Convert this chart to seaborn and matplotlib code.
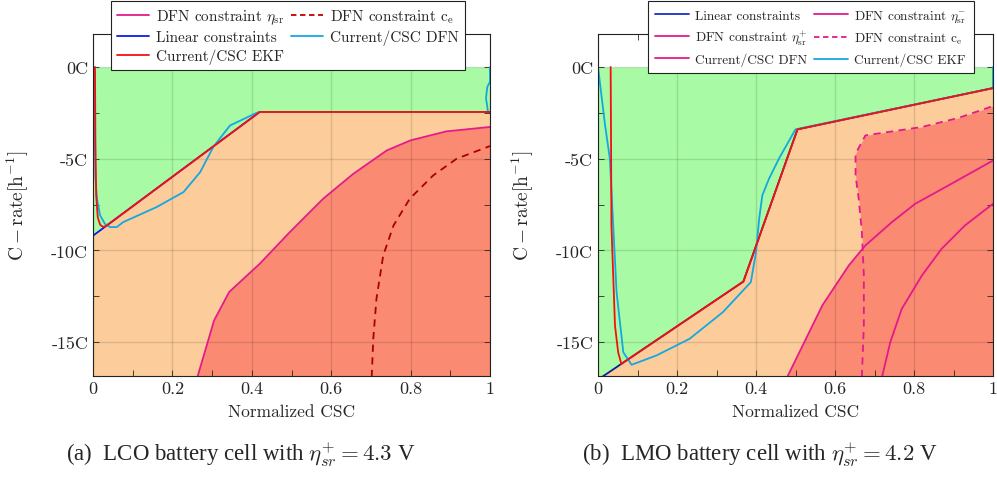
import numpy as np
import matplotlib.pyplot as plt
import seaborn as sns
from matplotlib.lines import Line2D
from matplotlib.ticker import MultipleLocator

# (a) LCO cell, eta_sr+ = 4.3 V
lco_lin_x = [0.0, 0.42, 1.0]
lco_lin_y = [-9.2, -2.45, -2.45]
lco_ekf_x = [0.005, 0.006, 0.008, 0.012, 0.018, 0.025, 0.033, 0.42, 1.0]
lco_ekf_y = [0.0, -4.0, -7.0, -8.2, -8.6, -8.72, -8.67, -2.45, -2.45]
lco_dfn_x = [0.003, 0.004, 0.006, 0.01, 0.018, 0.03, 0.043, 0.06, 0.076, 0.16, 0.228,
             0.27, 0.303, 0.345, 0.412, 0.42, 0.995, 0.99, 0.993, 1.0, 1.0]
lco_dfn_y = [0.0, -3.0, -6.0, -7.2, -8.1, -8.55, -8.73, -8.73, -8.46, -7.64, -6.82,
             -5.73, -4.36, -3.19, -2.5, -2.45, -2.45, -1.7, -1.1, -0.8, 0.0]
lco_eta_x = [0.263, 0.305, 0.343, 0.42, 0.496, 0.58, 0.656, 0.74, 0.80, 0.89, 1.0]
lco_eta_y = [-16.91, -13.82, -12.27, -10.73, -9.0, -7.18, -5.82, -4.55, -4.0, -3.51, -3.27]
lco_ce_x = [0.702, 0.706, 0.714, 0.731, 0.757, 0.798, 0.857, 0.916, 1.0]
lco_ce_y = [-16.91, -14.82, -12.64, -10.28, -8.64, -7.18, -5.91, -5.0, -4.31]

# (b) LMO cell, eta_sr+ = 4.2 V
lmo_lin_x = [0.0, 0.368, 0.505, 1.0]
lmo_lin_y = [-17.05, -11.7, -3.40, -1.15]
lmo_ekf_x = [0.032, 0.033, 0.034, 0.043, 0.051, 0.059, 0.368, 0.505, 1.0]
lmo_ekf_y = [0.0, -4.0, -8.64, -14.1, -15.55, -16.19, -11.7, -3.40, -1.15]
lmo_dfn_x = [0.0, 0.018, 0.03, 0.047, 0.064, 0.085, 0.148, 0.232, 0.316, 0.387, 0.40,
             0.408, 0.416, 0.433, 0.458, 0.50, 1.0, 1.0, 1.0]
lmo_dfn_y = [0.0, -3.19, -5.0, -12.27, -15.55, -16.24, -15.73, -14.82, -13.37, -11.73, -10.09,
             -8.28, -7.0, -6.09, -5.0, -3.40, -1.15, -0.6, 0.0]
lmo_ce_x = [0.668, 0.673, 0.673, 0.668, 0.66, 0.652, 0.652, 0.677, 0.82, 0.912, 1.0]
lmo_ce_y = [-16.91, -14.1, -11.37, -9.0, -7.18, -5.91, -4.73, -3.73, -3.27, -2.78, -2.13]
lmo_etam_x = [0.479, 0.568, 0.635, 0.677, 0.744, 0.803, 0.887, 1.0]
lmo_etam_y = [-16.91, -13.0, -10.82, -9.73, -8.46, -7.46, -6.46, -5.1]
lmo_etap_x = [0.719, 0.74, 0.769, 0.82, 0.87, 0.929, 1.0]
lmo_etap_y = [-16.91, -15.0, -13.19, -11.37, -9.91, -8.64, -7.46]

xticks = [0, 0.2, 0.4, 0.6, 0.8, 1]
xticklabels = ['0', '0.2', '0.4', '0.6', '0.8', '1']
yticks = [0, -5, -10, -15]
yticklabels = ['0C', '-5C', '-10C', '-15C']

sns.set_style('ticks')
plt.rcParams['font.family'] = 'cmr10'
plt.rcParams['mathtext.fontset'] = 'cm'
plt.rcParams['axes.formatter.use_mathtext'] = True

GREEN = '#a8fba4'
ORANGE = '#fccc9a'
SALMON = '#fb8a72'
MAGENTA = '#e4198c'
CYAN = '#14a8e2'
RED = '#f41010'
BOTTOM = -18

fig = plt.figure(figsize=(9.97, 4.81))
ax1 = fig.add_axes([93 / 997, 104 / 481, 397 / 997, 342 / 481])
ax2 = fig.add_axes([598 / 997, 104 / 481, 395 / 997, 342 / 481])


def regions(ax, lin_x, lin_y):
    ax.fill_between(lin_x, lin_y, 0, color=GREEN, lw=0)
    ax.fill_between(lin_x, BOTTOM, lin_y, color=ORANGE, lw=0)


def line(ax, x, y, color, **kw):
    sns.lineplot(x=x, y=y, ax=ax, sort=False, estimator=None, color=color,
                 lw=1.3, legend=False, **kw)


# --- panel (a)
regions(ax1, lco_lin_x, lco_lin_y)
ax1.fill_betweenx(lco_eta_y, lco_eta_x, 1, color=SALMON, lw=0)
line(ax1, lco_eta_x, lco_eta_y, MAGENTA)
line(ax1, lco_ce_x, lco_ce_y, '#a80000', linestyle=(0, (4, 3)))
line(ax1, lco_lin_x, lco_lin_y, '#0a1ee6')
line(ax1, lco_dfn_x, lco_dfn_y, CYAN)
line(ax1, lco_ekf_x, lco_ekf_y, RED)

h1 = [Line2D([], [], color=MAGENTA, lw=1.3),
      Line2D([], [], color='#0a1ee6', lw=1.3),
      Line2D([], [], color=RED, lw=1.3),
      Line2D([], [], color='#c00000', lw=1.3, linestyle=(0, (3, 2))),
      Line2D([], [], color=CYAN, lw=1.3)]
l1 = ['DFN constraint $\\eta_{\\mathrm{sr}}$', 'Linear constraints', 'Current/CSC EKF',
      'DFN constraint $\\mathrm{c_e}$', 'Current/CSC DFN']

# --- panel (b)
regions(ax2, lmo_lin_x, lmo_lin_y)
ax2.fill_betweenx(lmo_ce_y, lmo_ce_x, 1, color=SALMON, lw=0)
ax2.fill_betweenx(lmo_etam_y, lmo_etam_x, 1, color=SALMON, lw=0)
line(ax2, lmo_etam_x, lmo_etam_y, MAGENTA)
line(ax2, lmo_etap_x, lmo_etap_y, MAGENTA)
line(ax2, lmo_ce_x, lmo_ce_y, MAGENTA, linestyle=(0, (4, 3)))
line(ax2, lmo_lin_x, lmo_lin_y, '#0d1f8f')
line(ax2, lmo_dfn_x, lmo_dfn_y, CYAN)
line(ax2, lmo_ekf_x, lmo_ekf_y, RED)

h2 = [Line2D([], [], color='#1a2fc8', lw=1.3),
      Line2D([], [], color=MAGENTA, lw=1.3),
      Line2D([], [], color=MAGENTA, lw=1.3),
      Line2D([], [], color=MAGENTA, lw=1.3),
      Line2D([], [], color=MAGENTA, lw=1.3, linestyle=(0, (3, 2))),
      Line2D([], [], color=CYAN, lw=1.3)]
l2 = ['Linear constraints', 'DFN constraint $\\eta_{\\mathrm{sr}}^{+}$', 'Current/CSC DFN',
      'DFN constraint $\\eta_{\\mathrm{sr}}^{-}$', 'DFN constraint $\\mathrm{c_e}$', 'Current/CSC EKF']

for ax in (ax1, ax2):
    ax.set_xlim(0, 1)
    ax.set_ylim(-16.85, 1.8)
    ax.set_xticks(xticks)
    ax.set_xticklabels(xticklabels)
    ax.set_yticks(yticks)
    ax.set_yticklabels(yticklabels)
    ax.xaxis.set_minor_locator(MultipleLocator(0.1))
    ax.yaxis.set_minor_locator(MultipleLocator(2.5))
    ax.tick_params(which='both', direction='in', top=True, right=True, labelsize=13,
                   width=0.6, length=4)
    ax.set_axisbelow('line')
    ax.grid(True, which='major', color='k', alpha=0.12, lw=1)
    for s in ax.spines.values():
        s.set_linewidth(0.8)
        s.set_color('#222222')
    ax.set_xlabel('Normalized CSC', fontsize=12.5)
    ax.set_ylabel('$\\mathrm{C} - \\mathrm{rate}[\\mathrm{h}^{-1}]$', fontsize=14)
    ax.xaxis.set_label_coords(0.5, -0.08)
    ax.yaxis.set_label_coords(-0.156, 0.5)

leg_kw = dict(loc='upper center', ncol=2, frameon=True, fancybox=False,
              edgecolor='#222222', framealpha=1, borderaxespad=0)
lg1 = ax1.legend(h1, l1, bbox_to_anchor=(0.491, 1.096), fontsize=11, handlelength=2.1,
                 labelspacing=0.3, columnspacing=0.45, borderpad=0.4, handletextpad=0.45,
                 **leg_kw)
lg2 = ax2.legend(h2, l2, bbox_to_anchor=(0.539, 1.096), fontsize=9.6, handlelength=2.5,
                 labelspacing=0.5, columnspacing=0.5, borderpad=0.53, handletextpad=0.5,
                 **leg_kw)
for lg in (lg1, lg2):
    lg.get_frame().set_linewidth(0.8)

fig.text(241 / 997, 26 / 481, '(a)  LCO battery cell with $\\eta_{sr}^{+} = 4.3$ V',
         ha='center', va='center', fontsize=16.5, family='Liberation Serif')
fig.text(760 / 997, 26 / 481, '(b)  LMO battery cell with $\\eta_{sr}^{+} = 4.2$ V',
         ha='center', va='center', fontsize=16.5, family='Liberation Serif')

fig.savefig('out.png', dpi=100)
